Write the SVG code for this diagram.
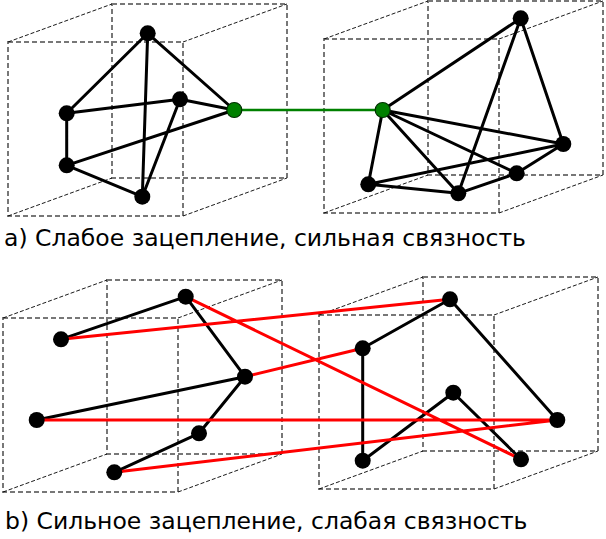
<svg xmlns="http://www.w3.org/2000/svg" width="606" height="539" viewBox="0 0 606 539">
<style>
.face{fill:none;stroke:#777;stroke-width:2;stroke-dasharray:5,3}
.diag{fill:none;stroke:#000;stroke-width:0.9;stroke-dasharray:4,2}
.e{stroke:#000;stroke-width:3;fill:none}
.r{stroke:#ff0000;stroke-width:3;fill:none}
.g{stroke:#008000;stroke-width:2.5;fill:none}
.n{fill:#000}
.gn{fill:#008000;stroke:#003000;stroke-width:1.2}
.t{font-family:"DejaVu Sans",sans-serif;font-size:23.5px;fill:#000}
</style>
<g id="cube-a1">
<rect class="face" x="112" y="4" width="175" height="174"/>
<rect class="face" x="8" y="42" width="175" height="174"/>
<path class="diag" d="M8,42L112,4M183,42L287,4M8,216L112,178M183,216L287,178"/>
</g>
<g id="cube-a2">
<rect class="face" x="428" y="1" width="175" height="174"/>
<rect class="face" x="324" y="39" width="175" height="174"/>
<path class="diag" d="M324,39L428,1M499,39L603,1M324,213L428,175M499,213L603,175"/>
</g>
<g id="cube-b1">
<rect class="face" x="107" y="280" width="175" height="174"/>
<rect class="face" x="3" y="318" width="175" height="174"/>
<path class="diag" d="M3,318L107,280M178,318L282,280M3,492L107,454M178,492L282,454"/>
</g>
<g id="cube-b2">
<rect class="face" x="423" y="277" width="175" height="174"/>
<rect class="face" x="319" y="315" width="175" height="174"/>
<path class="diag" d="M319,315L423,277M494,315L598,277M319,489L423,451M494,489L598,451"/>
</g>
<g id="connectors">
<path class="e" d="M147.7,33.3L66.7,113.3M147.7,33.3L142.3,196.7M147.7,33.3L234.3,110M66.7,113.3L180,99.3M180,99.3L234.3,110M66.7,113.3L66.7,165.3M66.7,165.3L234.3,110M66.7,165.3L142.3,196.7M180,99.3L142.3,196.7"/>
<path class="g" d="M234.3,110L382.7,110"/>
<path class="e" d="M382.7,110L520.7,18.3M520.7,18.3L563.3,144M520.7,18.3L458.3,193.3M382.7,110L563.3,144M382.7,110L516.7,173.3M382.7,110L458.3,193.3M382.7,110L368.3,184.3M368.3,184.3L563.3,144M368.3,184.3L458.3,193.3M458.3,193.3L516.7,173.3M516.7,173.3L563.3,144"/>
<path class="e" d="M61,339.3L185.7,296.7M185.7,296.7L245,376.7M245,376.7L36.7,420M245,376.7L199,433.3M199,433.3L114.3,472.3"/>
<path class="e" d="M362.7,348.3L450,299.3M450,299.3L557.3,420M362.7,348.3L362.7,460.7M362.7,460.7L453.3,392.7M453.3,392.7L521,459.3"/>
<path class="r" d="M61,339.3L450,299.3M185.7,296.7L521,459.3M245,376.7L362.7,348.3M36.7,420L557.3,420M114.3,472.3L557.3,420"/>
</g>
<g id="nodes-a1">
<circle class="n" cx="147.7" cy="33.3" r="8"/>
<circle class="n" cx="66.7" cy="113.3" r="8"/>
<circle class="n" cx="180" cy="99.3" r="8"/>
<circle class="n" cx="66.7" cy="165.3" r="8"/>
<circle class="n" cx="142.3" cy="196.7" r="8"/>
<circle class="gn" cx="234.3" cy="110" r="7.5"/>
</g>
<g id="nodes-a2">
<circle class="gn" cx="382.7" cy="110" r="7.5"/>
<circle class="n" cx="520.7" cy="18.3" r="8"/>
<circle class="n" cx="563.3" cy="144" r="8"/>
<circle class="n" cx="516.7" cy="173.3" r="8"/>
<circle class="n" cx="368.3" cy="184.3" r="8"/>
<circle class="n" cx="458.3" cy="193.3" r="8"/>
</g>
<g id="nodes-b1">
<circle class="n" cx="185.7" cy="296.7" r="8"/>
<circle class="n" cx="61" cy="339.3" r="8"/>
<circle class="n" cx="245" cy="376.7" r="8"/>
<circle class="n" cx="36.7" cy="420" r="8"/>
<circle class="n" cx="199" cy="433.3" r="8"/>
<circle class="n" cx="114.3" cy="472.3" r="8"/>
</g>
<g id="nodes-b2">
<circle class="n" cx="450" cy="299.3" r="8"/>
<circle class="n" cx="362.7" cy="348.3" r="8"/>
<circle class="n" cx="453.3" cy="392.7" r="8"/>
<circle class="n" cx="557.3" cy="420" r="8"/>
<circle class="n" cx="362.7" cy="460.7" r="8"/>
<circle class="n" cx="521" cy="459.3" r="8"/>
</g>
<text class="t" x="4" y="246">a) Слабое зацепление, сильная связность</text>
<text class="t" x="5" y="529">b) Сильное зацепление, слабая связность</text>
</svg>
